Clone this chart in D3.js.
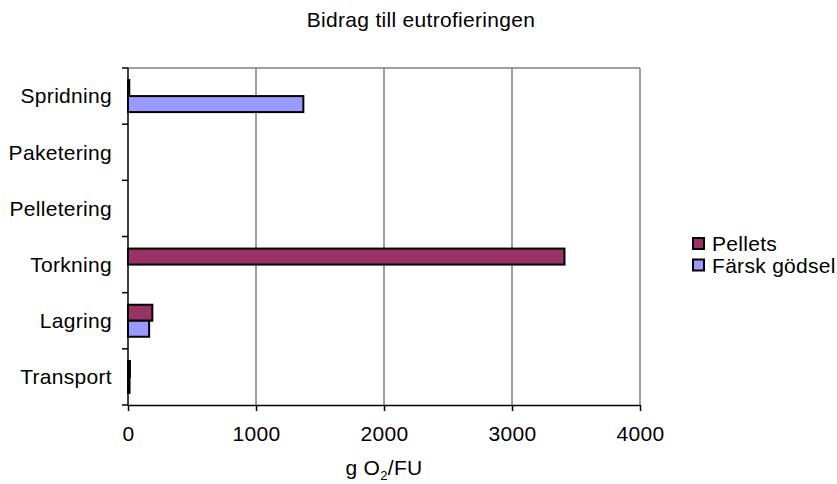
<!DOCTYPE html>
<html>
<head>
<meta charset="utf-8">
<script src="https://cdn.jsdelivr.net/npm/d3@7"></script>
<style>
    body { margin: 0; background: #fff; }
    svg { display: block; font-family: "Liberation Sans", Arial, sans-serif; }
    text { fill: #000; letter-spacing: 0.3px; }
</style>
</head>
<body>
<svg id="chart" width="837" height="484"></svg>
<script>
// categories, top to bottom
const categories = ["Spridning", "Paketering", "Pelletering", "Torkning", "Lagring", "Transport"];
const seriesNames = ["Pellets", "Färsk gödsel"];
const seriesColors = ["#993366", "#9999ff"];
const pellets = [10, 0, 0, 3410, 190, 15];
const farskGodsel = [1370, 0, 0, 0, 165, 12];
const xTicks = [0, 1000, 2000, 3000, 4000];

let svg = d3.select("#chart");
let fontSize = 21;

let plot = { left: 128, right: 640, top: 68, bottom: 405 };

let x = d3.scaleLinear().domain([0, 4000]).range([plot.left, plot.right]);
let y = d3.scaleBand().domain(categories).range([plot.top, plot.bottom])
    .paddingInner(0.43).paddingOuter(0.215);
let sub = d3.scaleBand().domain(seriesNames).range([0, y.bandwidth()]);

// title
svg.append("text")
    .attr("x", 421).attr("y", 27)
    .attr("text-anchor", "middle")
    .style("font-size", fontSize + "px")
    .text("Bidrag till eutrofieringen");

// grid lines
svg.append("g").selectAll("line").data(xTicks.slice(1))
    .enter().append("line")
    .attr("x1", d => x(d)).attr("x2", d => x(d))
    .attr("y1", plot.top).attr("y2", plot.bottom)
    .attr("stroke", "#808080").attr("stroke-width", 1.5);
// top border
svg.append("line")
    .attr("x1", plot.left).attr("x2", plot.right)
    .attr("y1", plot.top).attr("y2", plot.top)
    .attr("stroke", "#808080").attr("stroke-width", 1.5);

// bars
let rows = categories.map((c, i) => ({ cat: c, values: [pellets[i], farskGodsel[i]] }));
let groups = svg.append("g").selectAll("g").data(rows)
    .enter().append("g")
    .attr("transform", d => "translate(0," + y(d.cat) + ")");
groups.selectAll("rect")
    .data(d => d.values.map((v, j) => ({ v: v, j: j })).filter(e => e.v > 0))
    .enter().append("rect")
    .attr("x", x(0))
    .attr("y", d => sub(seriesNames[d.j]))
    .attr("width", d => x(d.v) - x(0))
    .attr("height", sub.bandwidth())
    .attr("fill", d => seriesColors[d.j])
    .attr("stroke", "#000").attr("stroke-width", 2);

// x axis
let xAxis = svg.append("g")
    .attr("transform", "translate(0," + plot.bottom + ")")
    .call(d3.axisBottom(x).tickValues(xTicks).tickFormat(d3.format("d"))
        .tickSize(6).tickPadding(15).tickSizeOuter(0));
xAxis.attr("font-family", null).attr("font-size", null);
xAxis.select(".domain").attr("stroke", "#000").attr("stroke-width", 1.5);
xAxis.selectAll(".tick line").attr("stroke", "#000").attr("stroke-width", 1.5);
xAxis.selectAll("text").style("font-size", fontSize + "px").attr("fill", "#000");

// y axis: ticks sit between categories
let yAxis = svg.append("g")
    .attr("transform", "translate(" + plot.left + ",0)");
let boundaries = d3.range(categories.length + 1).map(i => plot.top + i * y.step());
yAxis.selectAll("line.tk").data(boundaries)
    .enter().append("line").attr("class", "tk")
    .attr("x1", -6).attr("x2", 0)
    .attr("y1", d => d).attr("y2", d => d)
    .attr("stroke", "#000").attr("stroke-width", 1.5);
yAxis.append("line")
    .attr("x1", 0).attr("x2", 0)
    .attr("y1", plot.top).attr("y2", plot.bottom)
    .attr("stroke", "#000").attr("stroke-width", 1.5);
yAxis.selectAll("text").data(categories)
    .enter().append("text")
    .attr("x", -16)
    .attr("y", d => y(d) + y.bandwidth() / 2)
    .attr("dy", "0.35em")
    .attr("text-anchor", "end")
    .style("font-size", fontSize + "px")
    .text(d => d);

// x axis label
let xl = svg.append("text")
    .attr("x", (plot.left + plot.right) / 2).attr("y", 475)
    .attr("text-anchor", "middle")
    .style("font-size", fontSize + "px");
xl.append("tspan").text("g O");
xl.append("tspan").attr("dy", 5).style("font-size", "13px").text("2");
xl.append("tspan").attr("dy", -5).text("/FU");

// legend
let legend = svg.append("g").attr("transform", "translate(693,238)");
let items = legend.selectAll("g").data(seriesNames)
    .enter().append("g")
    .attr("transform", (d, i) => "translate(0," + i * 21.5 + ")");
items.append("rect")
    .attr("width", 11).attr("height", 11)
    .attr("fill", (d, i) => seriesColors[i])
    .attr("stroke", "#000").attr("stroke-width", 2);
items.append("text")
    .attr("x", 19).attr("y", 6).attr("dy", "0.35em")
    .style("font-size", fontSize + "px")
    .text(d => d);
</script>
</body>
</html>
